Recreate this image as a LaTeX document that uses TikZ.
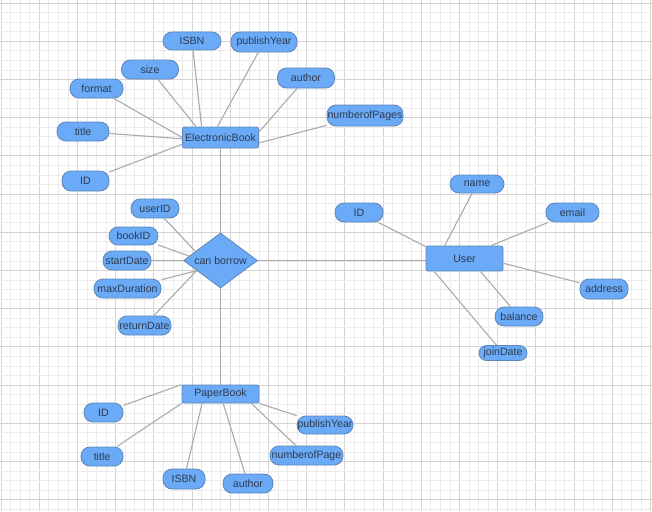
\documentclass[tikz,border=0pt]{standalone}
\usepackage{fontspec}
\setmainfont{Liberation Sans}
\usetikzlibrary{shapes.geometric}
\definecolor{attrfill}{HTML}{6AAAF7}
\definecolor{attrdraw}{HTML}{5E86B8}
\definecolor{txt}{HTML}{2E3B4E}
\definecolor{conn}{HTML}{ABABAB}
\definecolor{gminor}{HTML}{EBEBEB}
\definecolor{gmajor}{HTML}{D4D4D4}
\begin{document}
\begin{tikzpicture}[x=1pt,y=-1pt,
  base/.style={draw=attrdraw, fill=attrfill, line width=0.8pt, inner sep=0pt, text=txt, font=\fontsize{10.6}{12}\selectfont},
  attr/.style={base, rounded corners=9pt},
  ent/.style={base, rounded corners=2pt},
  rel/.style={base, diamond, aspect=1.35},
  link/.style={draw=conn, line width=1.1pt},
  gmin/.style={draw=gminor, line width=0.8pt},
  gmaj/.style={draw=gmajor, line width=1pt}]
\useasboundingbox (0,0) rectangle (652,511);
\fill[white] (0,0) rectangle (652,511);
% grid
\foreach \j in {0,...,68} {
  \pgfmathsetmacro{\xx}{1.1+9.55*\j}
  \pgfmathtruncatemacro{\mm}{mod(\j,4)}
  \ifnum\mm=0 \draw[gmaj] (\xx,0) -- (\xx,511); \else \draw[gmin] (\xx,0) -- (\xx,511); \fi
}
\foreach \j in {0,...,53} {
  \pgfmathsetmacro{\yy}{3.1+9.55*\j}
  \pgfmathtruncatemacro{\mm}{mod(\j,4)}
  \ifnum\mm=0 \draw[gmaj] (0,\yy) -- (652,\yy); \else \draw[gmin] (0,\yy) -- (652,\yy); \fi
}
% entities
\node[ent, minimum width=76pt, minimum height=21pt] (eb) at (220.5,137.5) {ElectronicBook};
\node[rel, minimum width=74pt, minimum height=55pt] (borrow) at (220.5,260.5) {can borrow};
\node[ent, minimum width=77pt, minimum height=25pt] (user) at (464.5,258.5) {User};
\node[ent, minimum width=77pt, minimum height=18pt] (pb) at (220.5,394) {PaperBook};
% ElectronicBook attributes
\node[attr, minimum width=58pt, minimum height=18pt] (eisbn) at (192,41) {ISBN};
\node[attr, minimum width=66pt, minimum height=20pt] (epub) at (264,42) {publishYear};
\node[attr, minimum width=57pt, minimum height=19pt] (esize) at (150,69.5) {size};
\node[attr, minimum width=53pt, minimum height=19pt] (eformat) at (96.5,88.5) {format};
\node[attr, minimum width=57pt, minimum height=20pt] (eauthor) at (306,78) {author};
\node[attr, minimum width=76pt, minimum height=21pt] (enop) at (365,115.5) {numberofPages};
\node[attr, minimum width=52pt, minimum height=19pt] (etitle) at (83,131.5) {title};
\node[attr, minimum width=47pt, minimum height=20pt] (eid) at (85.5,181) {ID};
% relationship attributes
\node[attr, minimum width=48pt, minimum height=19pt] (ruser) at (155,208.5) {userID};
\node[attr, minimum width=49pt, minimum height=18pt] (rbook) at (133.5,236) {bookID};
\node[attr, minimum width=48pt, minimum height=19pt] (rstart) at (127,260.5) {startDate};
\node[attr, minimum width=67pt, minimum height=19pt] (rmax) at (127.5,288.5) {maxDuration};
\node[attr, minimum width=53pt, minimum height=19pt] (rret) at (144.5,325.5) {returnDate};
% User attributes
\node[attr, minimum width=54pt, minimum height=18pt] (uname) at (477,184) {name};
\node[attr, minimum width=48pt, minimum height=19pt] (uid) at (359,212.5) {ID};
\node[attr, minimum width=53pt, minimum height=19pt] (uemail) at (572.5,212.5) {email};
\node[attr, minimum width=48pt, minimum height=20pt] (uaddr) at (604,289) {address};
\node[attr, minimum width=48pt, minimum height=19pt] (ubal) at (519,316.5) {balance};
\node[attr, minimum width=48pt, minimum height=15pt, rounded corners=7.5pt] (ujoin) at (503,353) {joinDate};
% PaperBook attributes
\node[attr, minimum width=39pt, minimum height=19pt] (pid) at (103.5,412.5) {ID};
\node[attr, minimum width=42pt, minimum height=19pt] (ptitle) at (102,456.5) {title};
\node[attr, minimum width=42pt, minimum height=20pt] (pisbn) at (184,479) {ISBN};
\node[attr, minimum width=50pt, minimum height=19pt] (pauthor) at (248,483.5) {author};
\node[attr, minimum width=73pt, minimum height=19pt] (pnop) at (306.5,455.5) {numberofPage};
\node[attr, minimum width=56pt, minimum height=18pt] (ppub) at (325,425) {publishYear};
% connectors
\draw[link] (eb.south) -- (borrow.north);
\draw[link] (borrow.south) -- (pb.north);
\draw[link] (borrow.east) -- (borrow.east -| user.west);
\draw[link] (eisbn) -- (eb.150);
\draw[link] (epub) -- (eb.106);
\draw[link] (esize) -- (eb.156);
\draw[link] (eformat) -- (eb.180);
\draw[link] (eauthor) -- (eb.8);
\draw[link] (enop) -- (eb.352);
\draw[link] (etitle) -- (eb.182);
\draw[link] (eid) -- (eb.190);
\draw[link] (ruser) -- (borrow.160);
\draw[link] (rbook) -- (borrow.172);
\draw[link] (rstart) -- (borrow.west);
\draw[link] (rmax) -- (borrow.203);
\draw[link] (rret) -- (borrow.203);
\draw[link] (uid) -- (user.163);
\draw[link] (uname) -- (user.147);
\draw[link] (uemail) -- (user.26);
\draw[link] (uaddr) -- (user.353);
\draw[link] (ubal) -- (user.321);
\draw[link] (ujoin) -- (user.203);
\draw[link] (pid) -- (pb.north west);
\draw[link] (ptitle) -- (pb.south west);
\draw[link] (pisbn) -- (pb.207);
\draw[link] (pauthor) -- (pb.286);
\draw[link] (pnop) -- (pb.343);
\draw[link] (ppub) -- (pb.south east);
\end{tikzpicture}
\end{document}
